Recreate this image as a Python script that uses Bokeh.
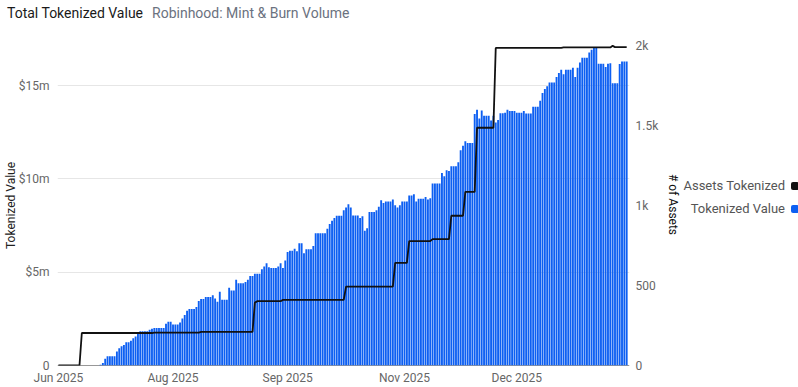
from bokeh.plotting import figure
from bokeh.models import Range1d, LinearAxis, FixedTicker, Span, ColumnDataSource, Div
from bokeh.layouts import column, row
from bokeh.embed import file_html
from bokeh.resources import INLINE

FONT = "Roboto"

# ---------------- data ----------------
title_text = "Total Tokenized Value"
subtitle_text = "Robinhood: Mint &amp; Burn Volume"
series_names = ["Assets Tokenized", "Tokenized Value"]
left_axis_title = "Tokenized Value"
right_axis_title = "# of Assets"

# x axis tick days (day index) and their labels
x_tick_days = [0, 49, 98, 148, 196]
x_tick_labels = ["Jun 2025", "Aug 2025", "Sep 2025", "Nov 2025", "Dec 2025"]

left_ticks = [0, 5, 10, 15]
left_tick_labels = ["0", "$5m", "$10m", "$15m"]
right_ticks = [0, 500, 1000, 1500, 2000]
right_tick_labels = ["0", "500", "1k", "1.5k", "2k"]

# Tokenized value ($m), one bar per day, starting at day 18
value_first_day = 18
tokenized_value_m = [
    0.04, 0.14, 0.36, 0.50, 0.50, 0.50, 0.50, 0.75, 0.92, 1.03,
    1.10, 1.24, 1.24, 1.32, 1.46, 1.56, 1.71, 1.83, 1.83, 1.83,
    1.83, 1.92, 1.97, 2.01, 2.01, 2.01, 2.01, 2.01, 2.24, 2.35,
    2.35, 2.20, 2.20, 2.20, 2.31, 2.52, 2.70, 2.93, 3.03, 3.03,
    3.03, 3.13, 3.45, 3.56, 3.56, 3.67, 3.67, 3.67, 3.77, 3.59,
    3.41, 3.95, 3.52, 3.52, 3.52, 4.16, 4.02, 4.02, 4.59, 4.41,
    4.41, 4.41, 4.48, 4.59, 4.80, 4.80, 4.91, 4.91, 4.91, 5.16,
    5.30, 5.48, 5.27, 5.23, 5.23, 5.23, 5.30, 5.48, 5.23, 5.62,
    6.08, 6.15, 6.15, 6.26, 6.12, 6.55, 6.55, 6.01, 6.23, 6.23,
    6.23, 6.40, 7.08, 7.08, 7.08, 7.08, 7.08, 7.33, 7.58, 7.75,
    7.90, 8.02, 8.02, 8.02, 8.32, 8.47, 8.64, 8.47, 8.04, 8.04,
    8.04, 7.90, 8.00, 7.22, 7.36, 8.22, 8.22, 8.22, 8.32, 8.50,
    8.86, 8.71, 8.79, 8.79, 8.79, 8.90, 8.58, 8.47, 8.58, 8.79,
    8.79, 8.79, 9.11, 9.11, 9.18, 8.79, 8.93, 8.93, 8.93, 9.03,
    8.90, 8.96, 9.75, 9.75, 9.75, 9.75, 10.32, 10.14, 10.46, 10.42,
    10.67, 10.67, 10.67, 10.89, 11.53, 11.78, 12.02, 11.92, 11.92, 11.92,
    13.48, 13.70, 13.23, 13.66, 13.38, 13.38, 13.38, 13.13, 13.38, 13.02,
    13.16, 13.52, 13.52, 13.54, 13.71, 13.64, 13.64, 13.64, 13.54, 13.54,
    13.54, 13.64, 13.50, 13.50, 13.50, 13.86, 13.86, 13.86, 14.18, 14.60,
    14.82, 14.96, 15.17, 15.17, 15.17, 15.46, 15.67, 15.85, 15.60, 15.85,
    15.85, 15.85, 15.96, 15.46, 15.96, 16.24, 16.49, 16.49, 16.49, 16.77,
    16.92, 17.02, 17.02, 16.17, 16.17, 16.17, 15.99, 16.17, 16.20, 15.12,
    15.12, 15.12, 16.15, 16.29, 16.29, 16.29,
]

# Number of assets tokenized, one point per day starting at day 0
assets_tokenized = [
    0, 0, 0, 0, 0, 0, 0, 0, 0, 0,
    203, 203, 203, 203, 203, 203, 203, 203, 203, 203,
    203, 203, 203, 203, 203, 203, 203, 203, 203, 203,
    203, 203, 203, 203, 203, 203, 203, 203, 203, 203,
    203, 206, 206, 206, 206, 206, 206, 206, 206, 206,
    206, 206, 206, 206, 206, 206, 206, 206, 206, 206,
    206, 210, 210, 210, 210, 210, 210, 210, 210, 210,
    210, 210, 210, 210, 210, 210, 210, 210, 210, 210,
    210, 210, 210, 210, 393, 402, 402, 402, 402, 402,
    402, 402, 402, 402, 402, 402, 410, 410, 410, 410,
    410, 410, 410, 410, 410, 410, 410, 410, 410, 410,
    410, 410, 410, 410, 410, 410, 410, 410, 410, 410,
    410, 410, 410, 493, 493, 493, 493, 493, 493, 493,
    493, 493, 493, 493, 493, 493, 493, 493, 493, 493,
    493, 493, 493, 493, 642, 642, 642, 642, 642, 642,
    778, 778, 778, 778, 778, 778, 778, 778, 778, 778,
    790, 790, 790, 790, 790, 790, 790, 790, 936, 936,
    936, 936, 936, 936, 1085, 1085, 1085, 1085, 1085, 1486,
    1486, 1486, 1486, 1486, 1486, 1486, 1486, 1985, 1985, 1985,
    1985, 1985, 1985, 1985, 1985, 1985, 1985, 1985, 1985, 1985,
    1985, 1985, 1985, 1985, 1985, 1985, 1985, 1985, 1985, 1985,
    1985, 1985, 1985, 1985, 1985, 1985, 1988, 1988, 1988, 1988,
    1988, 1988, 1988, 1988, 1988, 1988, 1988, 1988, 1988, 1988,
    1988, 1988, 1988, 1988, 1988, 1988, 1988, 1998, 1990, 1990,
    1990, 1990, 1990, 1990,
]

# ---------------- sources ----------------
bar_src = ColumnDataSource(dict(
    day=[value_first_day + i for i in range(len(tokenized_value_m))],
    value=tokenized_value_m,
))
line_src = ColumnDataSource(dict(
    day=list(range(len(assets_tokenized))),
    assets=assets_tokenized,
))

BLUE = "#0d5ff2"
LINE = "#111111"
GRAY = "#666666"
DARK = "#222222"

TOTAL_W = 798
TITLE_H = 30
PLOT_H = 387 - TITLE_H
LEFT_W = 15
RIGHT_W = 137
PLOT_W = TOTAL_W - LEFT_W - RIGHT_W

p = figure(width=PLOT_W, height=PLOT_H, output_backend="svg", toolbar_location=None,
           title=None, x_range=Range1d(-0.4, 244.2), y_range=Range1d(0, 17.95),
           min_border_left=0, min_border_right=0, min_border_top=0,
           min_border_bottom=0, background_fill_color="white",
           border_fill_color="white", margin=0)
p.extra_y_ranges = {"assets": Range1d(0, 2094)}
p.outline_line_color = None
p.xgrid.visible = False
p.ygrid.ticker = FixedTicker(ticks=left_ticks[1:])
p.ygrid.grid_line_color = "#e6e6e6"
p.ygrid.grid_line_width = 1

# left axis
ya = p.yaxis[0]
ya.ticker = FixedTicker(ticks=left_ticks)
ya.major_label_overrides = {t: l for t, l in zip(left_ticks, left_tick_labels)}
ya.axis_line_color = None
ya.major_tick_line_color = None
ya.minor_tick_line_color = None
ya.major_label_text_color = GRAY
ya.major_label_text_font = FONT
ya.major_label_text_font_size = "12px"
ya.major_label_standoff = 2

# bottom axis
xa = p.xaxis[0]
xa.ticker = FixedTicker(ticks=x_tick_days)
xa.major_label_overrides = {t: l for t, l in zip(x_tick_days, x_tick_labels)}
xa.axis_line_color = None
xa.major_tick_line_color = None
xa.minor_tick_line_color = None
xa.major_label_text_color = GRAY
xa.major_label_text_font = FONT
xa.major_label_text_font_size = "12px"
xa.major_label_standoff = -1

# right axis
ra = LinearAxis(y_range_name="assets", ticker=FixedTicker(ticks=right_ticks))
ra.major_label_overrides = {t: l for t, l in zip(right_ticks, right_tick_labels)}
ra.axis_line_color = None
ra.major_tick_line_color = None
ra.minor_tick_line_color = None
ra.major_label_text_color = GRAY
ra.major_label_text_font = FONT
ra.major_label_text_font_size = "12px"
ra.major_label_standoff = 0
p.add_layout(ra, "right")

p.add_layout(Span(location=0, dimension="width", line_color="#333333",
                  line_width=1, level="underlay"))

p.vbar(x="day", top="value", width=0.8, source=bar_src,
       fill_color=BLUE, line_color=None)
p.line(x="day", y="assets", source=line_src, y_range_name="assets",
       line_color=LINE, line_width=1.8)

# ---------------- HTML text parts ----------------
title_div = Div(
    text=(f'<div style="font-family:{FONT};font-size:14px;line-height:19px;'
          f'white-space:nowrap;padding-top:4px;padding-left:7px;">'
          f'<span style="color:#1a1a1a;">{title_text}</span>'
          f'<span style="color:#6b7280;margin-left:9px;">{subtitle_text}</span></div>'),
    width=TOTAL_W, height=TITLE_H, margin=0)

left_div = Div(
    text=(f'<div style="margin-left:5px;writing-mode:vertical-rl;transform:rotate(180deg);'
          f'font-family:{FONT};font-size:12px;line-height:13px;color:{DARK};'
          f'height:350px;width:13px;text-align:center;white-space:nowrap;">'
          f'{left_axis_title}</div>'),
    width=LEFT_W, height=PLOT_H, margin=0)

legend_colors = [LINE, BLUE]
legend_tops = [148, 171]
legend_html = ""
for name, col, top in zip(series_names, legend_colors, legend_tops):
    legend_html += (f'<div style="position:absolute;right:13px;top:{top}px;'
                    f'font-size:13px;line-height:16px;color:#555555;white-space:nowrap;">'
                    f'{name}</div>'
                    f'<div style="position:absolute;left:130px;top:{top + 4}px;width:8px;'
                    f'height:8px;border-radius:2px;background:{col};"></div>')

right_div = Div(
    text=(f'<div style="position:relative;width:{RIGHT_W}px;height:{PLOT_H}px;'
          f'font-family:{FONT};">'
          f'<div style="position:absolute;left:6px;top:0px;height:350px;'
          f'writing-mode:vertical-rl;text-align:center;font-size:12px;line-height:12px;'
          f'color:#111111;white-space:nowrap;">{right_axis_title}</div>'
          f'{legend_html}</div>'),
    width=RIGHT_W, height=PLOT_H, margin=0)

layout = column(title_div, row(left_div, p, right_div, spacing=0, margin=0),
                spacing=0, margin=0)

open("out.html", "w").write(file_html(layout, INLINE))
